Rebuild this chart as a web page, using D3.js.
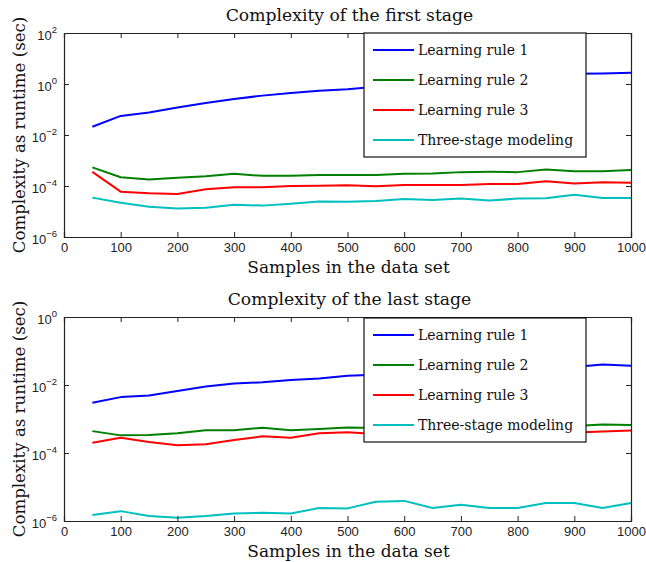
<!DOCTYPE html>
<html><head><meta charset="utf-8">
<script src="https://cdn.jsdelivr.net/npm/d3@7"></script>
<style>
body{margin:0;background:#fff;}
svg{display:block;}
</style></head>
<body>
<svg id="chart" width="646" height="562"></svg>
<script>
const samples = [50,100,150,200,250,300,350,400,450,500,550,600,650,700,750,800,850,900,950,1000];
const seriesNames = ["Learning rule 1","Learning rule 2","Learning rule 3","Three-stage modeling"];
const seriesColors = ["#0000ff","#008000","#ff0000","#00bfbf"];

// First stage
const first_rule1 = [0.021,0.056,0.076,0.12,0.18,0.26,0.35,0.44,0.54,0.62,0.78,0.95,1.15,1.4,1.7,2.2,2.4,2.5,2.6,2.75];
const first_rule2 = [5.4e-4,2.2e-4,1.8e-4,2.1e-4,2.4e-4,3.0e-4,2.5e-4,2.5e-4,2.7e-4,2.7e-4,2.7e-4,3.0e-4,3.1e-4,3.5e-4,3.6e-4,3.5e-4,4.4e-4,3.8e-4,3.8e-4,4.2e-4];
const first_rule3 = [3.6e-4,6.0e-5,5.2e-5,4.9e-5,7.4e-5,8.9e-5,9.0e-5,1.0e-4,1.03e-4,1.07e-4,9.8e-5,1.1e-4,1.1e-4,1.1e-4,1.2e-4,1.2e-4,1.55e-4,1.25e-4,1.4e-4,1.35e-4];
const first_three = [3.5e-5,2.2e-5,1.55e-5,1.3e-5,1.4e-5,1.85e-5,1.7e-5,2.0e-5,2.45e-5,2.4e-5,2.6e-5,3.1e-5,2.8e-5,3.2e-5,2.7e-5,3.2e-5,3.3e-5,4.5e-5,3.4e-5,3.4e-5];

// Last stage
const last_rule1 = [3.0e-3,4.4e-3,4.9e-3,6.7e-3,9.1e-3,1.1e-2,1.2e-2,1.4e-2,1.55e-2,1.86e-2,2.0e-2,2.2e-2,2.4e-2,2.6e-2,2.8e-2,3.0e-2,3.2e-2,3.4e-2,4.0e-2,3.7e-2];
const last_rule2 = [4.4e-4,3.3e-4,3.4e-4,3.8e-4,4.7e-4,4.7e-4,5.5e-4,4.7e-4,5.1e-4,5.6e-4,5.4e-4,5.6e-4,5.8e-4,5.7e-4,5.9e-4,6.0e-4,6.1e-4,6.2e-4,6.9e-4,6.7e-4];
const last_rule3 = [2.0e-4,2.8e-4,2.1e-4,1.7e-4,1.8e-4,2.4e-4,3.1e-4,2.8e-4,3.8e-4,4.1e-4,3.6e-4,3.8e-4,3.7e-4,3.9e-4,3.8e-4,3.9e-4,4.0e-4,4.0e-4,4.3e-4,4.6e-4];
const last_three = [1.5e-6,1.95e-6,1.4e-6,1.25e-6,1.4e-6,1.65e-6,1.75e-6,1.65e-6,2.4e-6,2.35e-6,3.7e-6,3.9e-6,2.4e-6,3.0e-6,2.4e-6,2.4e-6,3.4e-6,3.4e-6,2.4e-6,3.4e-6];

const xTicks = [0,100,200,300,400,500,600,700,800,900,1000];
const topExps = [2,0,-2,-4,-6];
const bottomExps = [0,-2,-4,-6];

const titles = ["Complexity of the first stage","Complexity of the last stage"];
const xLabel = "Samples in the data set";
const yLabel = "Complexity as runtime (sec)";

const serif = "'DejaVu Serif', serif";
const sans = "'Liberation Sans', Arial, sans-serif";

const svg = d3.select("#chart");

function panel(cfg){
  const g = svg.append("g");
  const x = d3.scaleLinear().domain([0,1000]).range([cfg.left, cfg.right]);
  const y = d3.scaleLog().domain([Math.pow(10,d3.min(cfg.exps)), Math.pow(10,d3.max(cfg.exps))]).range([cfg.bottom, cfg.top]);
  const yTickVals = cfg.exps.map(e=>Math.pow(10,e));

  // lines
  const line = d3.line().x((d,i)=>x(samples[i])).y(d=>y(d));
  cfg.series.forEach((s,i)=>{
    g.append("path").datum(s).attr("d",line).attr("fill","none")
      .attr("stroke",seriesColors[i]).attr("stroke-width",2).attr("stroke-linejoin","round");
  });

  // axes with inward ticks
  const axB = g.append("g").attr("transform",`translate(0,${cfg.bottom})`)
    .call(d3.axisBottom(x).tickValues(xTicks).tickSize(-5).tickPadding(6).tickFormat(d3.format("d")));
  const axT = g.append("g").attr("transform",`translate(0,${cfg.top})`)
    .call(d3.axisTop(x).tickValues(xTicks).tickSize(-5).tickFormat(""));
  const axL = g.append("g").attr("transform",`translate(${cfg.left},0)`)
    .call(d3.axisLeft(y).tickValues(yTickVals).tickSize(-5).tickFormat(""));
  const axR = g.append("g").attr("transform",`translate(${cfg.right},0)`)
    .call(d3.axisRight(y).tickValues(yTickVals).tickSize(-5).tickFormat(""));
  [axB,axT,axL,axR].forEach(a=>{
    a.select(".domain").attr("stroke","#222").attr("stroke-width",1.2);
    a.selectAll(".tick line").attr("stroke","#222");
    a.selectAll("text").attr("font-family",sans).attr("font-size",13).attr("fill","#222");
  });

  // y tick labels 10^e
  cfg.exps.forEach(e=>{
    const yy = y(Math.pow(10,e));
    const t = g.append("text").attr("font-family",sans).attr("fill","#222")
      .attr("text-anchor","end").attr("x",cfg.left-7).attr("y",yy+6.5);
    t.append("tspan").attr("font-size",13).text("10");
    t.append("tspan").attr("font-size",9.5).attr("dy",-6.5).text(e<0?"\u2212"+(-e):String(e));
  });

  // title
  g.append("text").attr("x",(cfg.left+cfg.right)/2+2).attr("y",cfg.top-12)
    .attr("text-anchor","middle").attr("font-family",serif).attr("font-size",17.2).attr("fill","#111")
    .text(cfg.title);
  // x label
  g.append("text").attr("x",(cfg.left+cfg.right)/2+1).attr("y",cfg.bottom+36)
    .attr("text-anchor","middle").attr("font-family",serif).attr("font-size",17).attr("fill","#111")
    .text(xLabel);
  // y label
  g.append("text").attr("transform",`translate(25,${(cfg.top+cfg.bottom)/2}) rotate(-90)`)
    .attr("text-anchor","middle").attr("font-family",serif).attr("font-size",16.6).attr("fill","#111")
    .text(yLabel);

  // legend
  const lg = g.append("g");
  lg.append("rect").attr("x",cfg.leg.x).attr("y",cfg.leg.y).attr("width",222).attr("height",124)
    .attr("fill","#fff").attr("stroke","#111").attr("stroke-width",1.2);
  seriesNames.forEach((n,i)=>{
    const ly = cfg.leg.y + 17 + i*30;
    lg.append("line").attr("x1",cfg.leg.x+9).attr("x2",cfg.leg.x+50).attr("y1",ly).attr("y2",ly)
      .attr("stroke",seriesColors[i]).attr("stroke-width",2);
    lg.append("text").attr("x",cfg.leg.x+54).attr("y",ly+5).attr("font-family",serif)
      .attr("font-size",14).attr("fill","#111").text(n);
  });
}

panel({left:64,right:631,top:33,bottom:237,exps:topExps,title:titles[0],
  series:[first_rule1,first_rule2,first_rule3,first_three],leg:{x:364,y:33}});
panel({left:64,right:631,top:317,bottom:521,exps:bottomExps,title:titles[1],
  series:[last_rule1,last_rule2,last_rule3,last_three],leg:{x:364,y:318}});
</script>
</body></html>
